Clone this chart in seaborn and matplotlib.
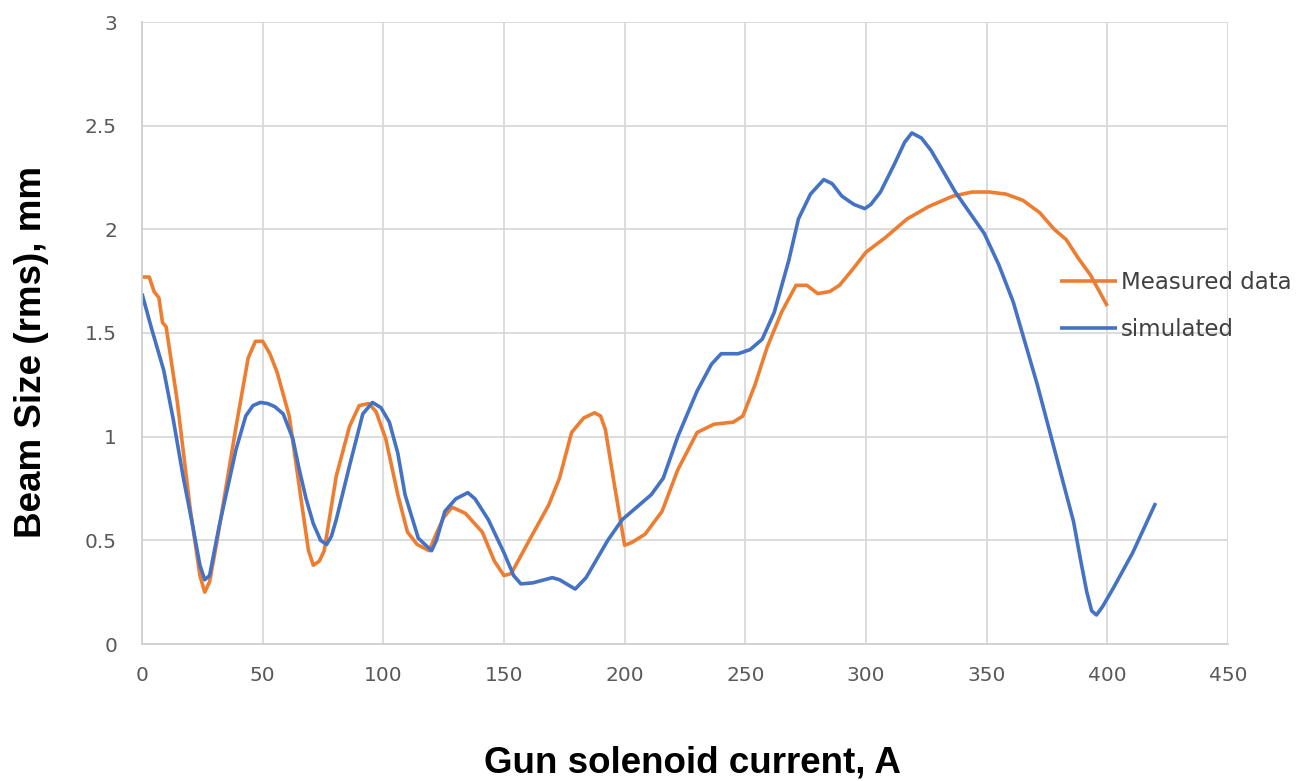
import matplotlib
matplotlib.use("Agg")
import matplotlib.pyplot as plt
import seaborn as sns
import pandas as pd

# ---- data ----
measured_x = [0, 3, 5, 7, 8.5, 10, 14.5, 20, 24, 26, 28, 31, 39, 44, 47, 50, 53, 56, 61,
              66.5, 69, 71, 73.5, 75.5, 80.5, 86, 90, 94, 97, 101, 106, 110, 114, 119,
              121.5, 125, 128.5, 134, 141, 146, 150, 153, 160, 168.5, 173, 178, 183,
              187.5, 190, 192, 196, 200, 203, 208.5, 215.5, 222, 230, 237, 245, 249,
              254, 259, 265, 271, 275.5, 280, 285, 289, 294, 300, 308, 317, 326, 336,
              344, 351, 358, 365, 372, 378, 383, 388, 393, 400]
measured_y = [1.77, 1.77, 1.70, 1.67, 1.55, 1.53, 1.18, 0.65, 0.33, 0.25, 0.30, 0.49, 1.05,
              1.38, 1.46, 1.46, 1.40, 1.31, 1.10, 0.65, 0.45, 0.38, 0.40, 0.45, 0.81,
              1.05, 1.15, 1.16, 1.12, 0.99, 0.72, 0.54, 0.48, 0.45, 0.52, 0.61, 0.66,
              0.63, 0.54, 0.40, 0.33, 0.34, 0.49, 0.67, 0.80, 1.02, 1.09, 1.115, 1.10,
              1.035, 0.75, 0.476, 0.49, 0.53, 0.64, 0.84, 1.02, 1.06, 1.07, 1.10, 1.25,
              1.43, 1.60, 1.73, 1.73, 1.69, 1.70, 1.73, 1.80, 1.89, 1.96, 2.05, 2.11,
              2.16, 2.18, 2.18, 2.17, 2.14, 2.08, 2.00, 1.95, 1.86, 1.78, 1.63]

simulated_x = [0, 4, 9, 13, 17, 21, 24, 26, 28, 32, 39, 43, 46, 49, 52, 55, 58.5, 62.5, 65,
               68, 71, 74, 76.5, 78.5, 80.5, 86, 91.5, 95.5, 99, 102.5, 106, 109, 114.5,
               120, 122, 125.5, 130, 135, 138, 143.5, 150, 154, 157, 162, 170, 173, 179.5,
               184, 188, 193, 199, 205, 211, 216, 222, 230, 236, 240, 247, 252, 257,
               262, 268, 272, 277, 282.5, 286, 290, 295, 299.5, 302, 306, 312, 316,
               319, 323, 327, 332, 337, 343, 349, 355, 361, 366, 371, 376, 381, 386,
               389, 391.5, 393.5, 395.5, 398, 402.5, 410.5, 420]
simulated_y = [1.69, 1.52, 1.32, 1.08, 0.81, 0.57, 0.38, 0.31, 0.33, 0.57, 0.94, 1.10, 1.15,
               1.165, 1.16, 1.145, 1.11, 0.99, 0.85, 0.70, 0.58, 0.50, 0.48, 0.52, 0.60,
               0.86, 1.11, 1.165, 1.14, 1.07, 0.92, 0.72, 0.51, 0.45, 0.50, 0.64, 0.70,
               0.73, 0.70, 0.60, 0.44, 0.33, 0.29, 0.295, 0.32, 0.31, 0.265, 0.32, 0.40,
               0.50, 0.60, 0.66, 0.72, 0.80, 1.00, 1.22, 1.35, 1.40, 1.40, 1.42, 1.47,
               1.60, 1.85, 2.05, 2.17, 2.24, 2.22, 2.16, 2.12, 2.10, 2.12, 2.18, 2.32,
               2.42, 2.465, 2.44, 2.38, 2.28, 2.18, 2.08, 1.98, 1.83, 1.65, 1.45, 1.25,
               1.03, 0.81, 0.59, 0.40, 0.25, 0.16, 0.14, 0.18, 0.27, 0.44, 0.68]

series_names = ["Measured data", "simulated"]
x_ticks = [0, 50, 100, 150, 200, 250, 300, 350, 400, 450]
y_ticks = [0, 0.5, 1, 1.5, 2, 2.5, 3]
x_label = "Gun solenoid current, A"
y_label = "Beam Size (rms), mm"

df = pd.concat([
    pd.DataFrame({"x": measured_x, "y": measured_y, "series": series_names[0]}),
    pd.DataFrame({"x": simulated_x, "y": simulated_y, "series": series_names[1]}),
], ignore_index=True)

sns.set_theme(style="whitegrid")
plt.rcParams["font.family"] = ["DejaVu Sans"]

fig = plt.figure(figsize=(13.03, 7.81), dpi=100)
ax = fig.add_axes([142 / 1303, 1 - 644 / 781, (1228 - 142) / 1303, (644 - 22) / 781])

palette = {"Measured data": "#ED7D31", "simulated": "#4472C4"}
sns.lineplot(data=df, x="x", y="y", hue="series", palette=palette, sort=False,
             estimator=None, units="series", linewidth=2.6, ax=ax,
             hue_order=series_names)
for ln in ax.lines:
    ln.set_solid_joinstyle("round")
    ln.set_solid_capstyle("butt")

ax.set_xlim(0, 450)
ax.set_ylim(0, 3)
ax.set_xticks(x_ticks)
ax.set_yticks(y_ticks)
ax.set_xticklabels([str(t) for t in x_ticks])
ax.set_yticklabels([f"{t:g}" for t in y_ticks])
ax.grid(True, color="#d9d9d9", linewidth=1.3)
ax.set_axisbelow(True)
for s in ax.spines.values():
    s.set_visible(False)
for side in ("left", "bottom"):
    ax.spines[side].set_visible(True)
    ax.spines[side].set_color("#d0d0d0")
    ax.spines[side].set_linewidth(1.3)

ax.tick_params(axis="both", length=0, labelsize=14.5, labelcolor="#595959")
ax.tick_params(axis="x", pad=16)
ax.tick_params(axis="y", pad=18)

ax.set_xlabel(x_label, fontsize=26.5, fontweight="bold", family="Liberation Sans",
              color="black")
ax.set_ylabel(y_label, fontsize=26.5, fontweight="bold", family="Liberation Sans",
              color="black")
ax.xaxis.set_label_coords((692 - 142) / 1086, (644 - 745) / 622)
ax.yaxis.set_label_coords((49 - 142) / 1086, (644 - 352) / 622)

handles, labels = ax.get_legend_handles_labels()
ax.legend(handles, labels, loc="center left", frameon=False,
          bbox_to_anchor=(1060 / 1303, 1 - 306 / 781), bbox_transform=fig.transFigure,
          fontsize=16.5, handlelength=2.5, handletextpad=0.15, labelspacing=1.08,
          borderpad=0, borderaxespad=0)
for t in ax.get_legend().get_texts():
    t.set_color("#404040")

fig.savefig("out.png", dpi=100, facecolor="white")
